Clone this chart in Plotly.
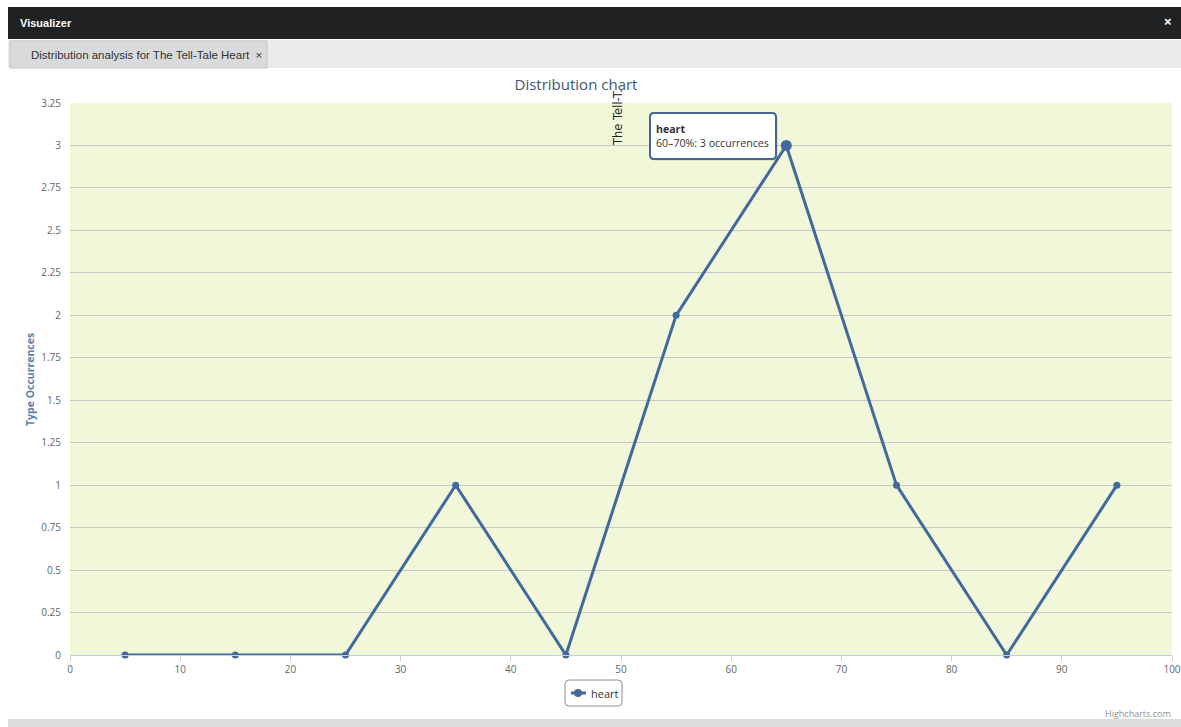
import plotly.graph_objects as go

# ---- data ----
bin_centers = [5, 15, 25, 35, 45, 55, 65, 75, 85, 95]
occurrences = [0, 0, 0, 1, 0, 2, 3, 1, 0, 1]
series_name = "heart"
y_tick_vals = [0, 0.25, 0.5, 0.75, 1, 1.25, 1.5, 1.75, 2, 2.25, 2.5, 2.75, 3, 3.25]
y_tick_text = ["0", "0.25", "0.5", "0.75", "1", "1.25", "1.5", "1.75", "2", "2.25", "2.5", "2.75", "3", "3.25"]
x_tick_vals = [0, 10, 20, 30, 40, 50, 60, 70, 80, 90, 100]
hover_index = 6
tooltip_text = "<b>heart</b><br>60–70%: 3 occurrences"

W, H = 1181, 727
L, R, T, B = 70, 1172, 103, 655
PW, PH = R - L, B - T


def px(x):
    return (x - L) / PW


def py(y):
    return (B - y) / PH


LINE = "#41699b"
FONT = "Open Sans, DejaVu Sans, sans-serif"

sizes = [11 if i == hover_index else 7 for i in range(len(bin_centers))]

fig = go.Figure()
fig.add_trace(go.Scatter(
    x=bin_centers, y=occurrences, mode="lines+markers", name=series_name,
    line=dict(color=LINE, width=3),
    marker=dict(color=LINE, size=sizes, line=dict(width=0), opacity=1),
    cliponaxis=False, showlegend=False,
))


def rounded_rect(x0, y0, x1, y1, r):
    pts = [
        f"M {px(x0 + r)},{py(y0)}",
        f"L {px(x1 - r)},{py(y0)}",
        f"Q {px(x1)},{py(y0)} {px(x1)},{py(y0 + r)}",
        f"L {px(x1)},{py(y1 - r)}",
        f"Q {px(x1)},{py(y1)} {px(x1 - r)},{py(y1)}",
        f"L {px(x0 + r)},{py(y1)}",
        f"Q {px(x0)},{py(y1)} {px(x0)},{py(y1 - r)}",
        f"L {px(x0)},{py(y0 + r)}",
        f"Q {px(x0)},{py(y0)} {px(x0 + r)},{py(y0)}",
        "Z",
    ]
    return " ".join(pts)


shapes = [
    # dark header
    dict(type="rect", xref="paper", yref="paper", x0=px(8), x1=px(W), y0=py(39), y1=py(7),
         fillcolor="#1f2123", line=dict(width=0), layer="below"),
    # tab strip
    dict(type="rect", xref="paper", yref="paper", x0=px(8), x1=px(W), y0=py(68), y1=py(40),
         fillcolor="#ebebeb", line=dict(width=0), layer="below"),
    # tab
    dict(type="rect", xref="paper", yref="paper", x0=px(10), x1=px(267), y0=py(68), y1=py(41),
         fillcolor="#d9dadb", line=dict(color="#c4c4c4", width=1), layer="below"),
    # bottom bar
    dict(type="rect", xref="paper", yref="paper", x0=px(8), x1=px(W), y0=py(727), y1=py(719),
         fillcolor="#dcdcdc", line=dict(width=0), layer="below"),
    # tooltip shadow
    dict(type="path", xref="paper", yref="paper", path=rounded_rect(652, 115, 778, 161, 4),
         fillcolor="rgba(0,0,0,0.08)", line=dict(width=0), layer="above"),
    # tooltip box
    dict(type="path", xref="paper", yref="paper", path=rounded_rect(650, 113, 776, 159, 4),
         fillcolor="white", line=dict(color="#46668e", width=2), layer="above"),
    # legend box
    dict(type="path", xref="paper", yref="paper", path=rounded_rect(565, 680, 622, 706, 4),
         fillcolor="white", line=dict(color="#909090", width=1), layer="above"),
    # legend symbol line
    dict(type="line", xref="paper", yref="paper", x0=px(571), x1=px(586), y0=py(693), y1=py(693),
         line=dict(color=LINE, width=3), layer="above"),
    # legend symbol marker
    dict(type="circle", xref="paper", yref="paper", x0=px(574), x1=px(582), y0=py(697), y1=py(689),
         fillcolor=LINE, line=dict(width=0), layer="above"),
]

annotations = [
    dict(text="<b>Visualizer</b>", xref="paper", yref="paper", x=px(18), y=py(23),
         xanchor="left", yanchor="middle", showarrow=False,
         font=dict(family="Liberation Sans, Arial", size=11, color="white")),
    dict(text="<b>×</b>", xref="paper", yref="paper", x=px(1168), y=py(22),
         xanchor="center", yanchor="middle", showarrow=False,
         font=dict(family="Liberation Sans, Arial", size=13, color="white")),
    dict(text="Distribution analysis for The Tell-Tale Heart  ×", xref="paper", yref="paper",
         x=px(29), y=py(55), xanchor="left", yanchor="middle", showarrow=False,
         font=dict(family="Liberation Sans, Arial", size=11.5, color="#333333")),
    dict(text="<b>Type Occurrences</b>", xref="paper", yref="paper", x=px(30), y=py(380),
         xanchor="center", yanchor="middle", textangle=-90, showarrow=False,
         font=dict(family=FONT, size=10.5, color="#5a7fa8")),
    dict(text="The Tell-T.", xref="paper", yref="paper", x=px(618), y=py(118),
         xanchor="center", yanchor="middle", textangle=-90, showarrow=False,
         font=dict(family="DejaVu Sans, sans-serif", size=11.5, color="#222222")),
    dict(text=tooltip_text, xref="paper", yref="paper", x=px(654), y=py(136),
         xanchor="left", yanchor="middle", showarrow=False, align="left",
         font=dict(family=FONT, size=10.6, color="#333333")),
    dict(text=series_name, xref="paper", yref="paper", x=px(589), y=py(693),
         xanchor="left", yanchor="middle", showarrow=False,
         font=dict(family=FONT, size=11, color="#333333")),
    dict(text="Highcharts.com", xref="paper", yref="paper", x=px(1173), y=py(713),
         xanchor="right", yanchor="middle", showarrow=False,
         font=dict(family=FONT, size=9, color="#909090")),
]

fig.update_layout(
    width=W, height=H,
    margin=dict(l=L, r=W - R, t=T, b=H - B, pad=0, autoexpand=False),
    paper_bgcolor="white", plot_bgcolor="#f1f8da",
    title=dict(text="Distribution chart", x=576 / W, xref="container", xanchor="center",
               y=1 - 85 / H, yref="container", yanchor="middle",
               font=dict(family=FONT, size=15, color="#3e576f")),
    font=dict(family=FONT),
    showlegend=False,
    shapes=shapes, annotations=annotations,
    xaxis=dict(range=[0, 100], tickvals=x_tick_vals, showgrid=False, zeroline=False,
               showline=True, linecolor="#c0d0e0", linewidth=1,
               ticks="outside", ticklen=5, tickcolor="#c0d0e0", automargin=False,
               tickfont=dict(family=FONT, size=10, color="#666666"), fixedrange=True),
    yaxis=dict(range=[0, 3.25], tickvals=y_tick_vals, ticktext=y_tick_text,
               showgrid=True, gridcolor="#c8c8c8", gridwidth=1, zeroline=False,
               showline=False, ticks="", ticklabelstandoff=8, automargin=False,
               tickfont=dict(family=FONT, size=10, color="#666666"), fixedrange=True),
)

fig.write_html("out.html", config={"displayModeBar": False},
               post_script="document.body.style.margin='0px';")
